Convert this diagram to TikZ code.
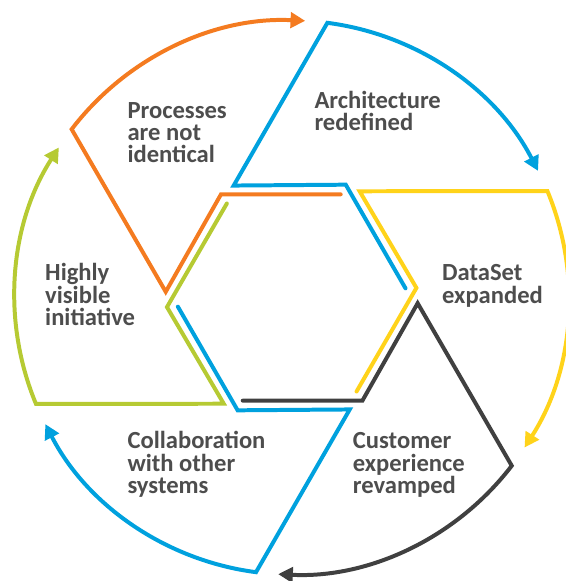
\documentclass[tikz,border=0pt]{standalone}
\usepackage{fontspec}
\setmainfont{Carlito}
\usetikzlibrary{arrows.meta}
\definecolor{cOrange}{HTML}{F47B20}
\definecolor{cBlue}{HTML}{00A1DE}
\definecolor{cYellow}{HTML}{FFD31A}
\definecolor{cGray}{HTML}{404040}
\definecolor{cGreen}{HTML}{B6CA33}
\definecolor{cText}{HTML}{4D4D4D}
\begin{document}
\begin{tikzpicture}[x=0.03cm,y=0.03cm]
  \tikzset{piece/.style={draw,line width=3.4pt,line cap=round,line join=miter,-{Triangle[length=4.4mm,width=4.6mm]}}}
  \tikzset{lbl/.style={anchor=base west,align=left,inner sep=0pt,text=cText,font=\fontsize{21pt}{18.9pt}\selectfont\bfseries}}
  \useasboundingbox (-291.7,-283.5) rectangle (274.3,297.5);
  \path[piece,cOrange] (64.6:114.2) -- (124.4:125.1) -- (177.4:126.1) -- (142.6:277)
    arc[start angle=142.6,end angle=87.2,radius=277];
  \path[piece,cBlue] (4.6:114.2) -- (64.4:125.1) -- (117.4:126.1) -- (82.6:277)
    arc[start angle=82.6,end angle=27.2,radius=277];
  \path[piece,cYellow] (-55.4:114.2) -- (4.4:125.1) -- (57.4:126.1) -- (22.6:277)
    arc[start angle=22.6,end angle=-32.8,radius=277];
  \path[piece,cGray] (-115.4:114.2) -- (-55.6:125.1) -- (-2.6:126.1) -- (-37.4:277)
    arc[start angle=-37.4,end angle=-92.8,radius=277];
  \path[piece,cBlue] (-175.4:114.2) -- (-115.6:125.1) -- (-62.6:126.1) -- (-97.4:277)
    arc[start angle=-97.4,end angle=-152.8,radius=277];
  \path[piece,cGreen] (124.6:114.2) -- (-175.6:125.1) -- (-122.6:126.1) -- (-157.4:277)
    arc[start angle=-157.4,end angle=-212.8,radius=277];
  % labels, placed at the baseline of their last line
  \node[lbl] (proc) at (-164.4,135.0) {Processes\\are not\\identical};
  \node[lbl] (arch) at (22.6,167.1) {Architecture\\redefined};
  \node[lbl] (data) at (150.3,-5.6) {DataSet\\expanded};
  \node[lbl] (cust) at (61,-195.7) {Customer\\experience\\revamped};
  \node[lbl] (coll) at (-164.4,-195.7) {Collaboration\\with other\\systems};
  \node[lbl] (high) at (-246.7,-27.7) {Highly\\visible\\initiative};
\end{tikzpicture}
\end{document}
